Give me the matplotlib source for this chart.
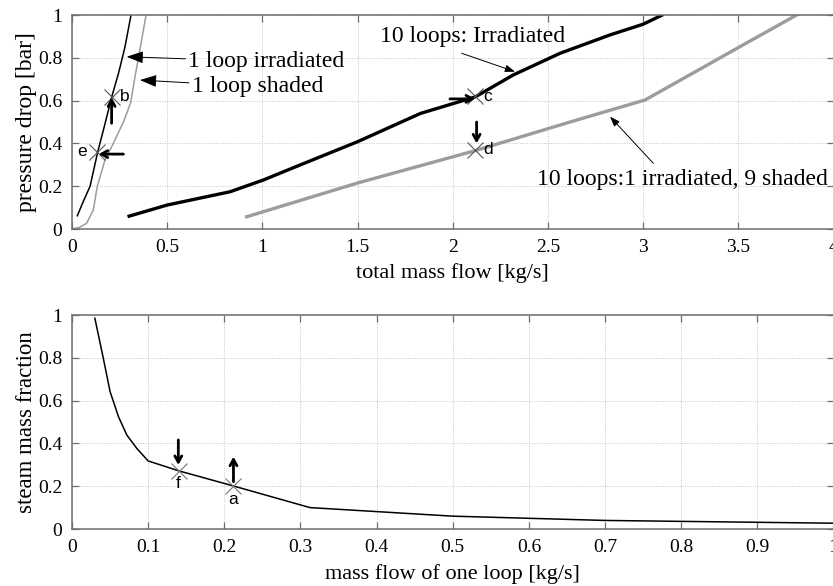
import matplotlib
matplotlib.use("Agg")
import matplotlib.pyplot as plt

# ---- data ----
# top plot: pressure drop vs total mass flow
one_irr_x = [0.028, 0.06, 0.095, 0.12, 0.135, 0.17, 0.208, 0.245, 0.278, 0.31]
one_irr_y = [0.062, 0.13, 0.20, 0.30, 0.36, 0.48, 0.615, 0.73, 0.85, 1.0]

one_sh_x = [0.0, 0.04, 0.077, 0.112, 0.133, 0.173, 0.217, 0.27, 0.308, 0.331, 0.349, 0.389]
one_sh_y = [0.0, 0.008, 0.027, 0.089, 0.20, 0.322, 0.40, 0.50, 0.59, 0.712, 0.80, 1.0]

ten_irr_x = [0.30, 0.50, 0.83, 1.005, 1.2, 1.5, 1.83, 2.117, 2.318, 2.563, 2.826, 3.0, 3.1]
ten_irr_y = [0.06, 0.112, 0.174, 0.229, 0.30, 0.408, 0.54, 0.617, 0.72, 0.821, 0.907, 0.957, 1.0]

ten_mix_x = [0.917, 1.5, 2.117, 2.616, 3.01, 3.508, 3.806]
ten_mix_y = [0.057, 0.215, 0.366, 0.50, 0.603, 0.852, 1.0]

# marked operating points, top
pts_top_x = [0.208, 0.13, 2.117, 2.117]
pts_top_y = [0.618, 0.362, 0.62, 0.37]
pts_top_lbl = ["b", "e", "c", "d"]

# bottom plot: steam mass fraction vs mass flow of one loop
loop_x = [0.03, 0.041, 0.05, 0.061, 0.072, 0.085, 0.10, 0.14, 0.21, 0.3125, 0.5, 0.7, 1.0]
loop_y = [0.985, 0.80, 0.642, 0.525, 0.439, 0.377, 0.318, 0.272, 0.203, 0.10, 0.06, 0.04, 0.027]

pts_bot_x = [0.14, 0.212]
pts_bot_y = [0.272, 0.201]
pts_bot_lbl = ["f", "a"]

top_xticks = [0, 0.5, 1, 1.5, 2, 2.5, 3, 3.5, 4]
top_xticklabels = ["0", "0.5", "1", "1.5", "2", "2.5", "3", "3.5", "4"]
yticks = [0, 0.2, 0.4, 0.6, 0.8, 1]
yticklabels = ["0", "0.2", "0.4", "0.6", "0.8", "1"]
bot_xticks = [0, 0.1, 0.2, 0.3, 0.4, 0.5, 0.6, 0.7, 0.8, 0.9, 1]
bot_xticklabels = ["0", "0.1", "0.2", "0.3", "0.4", "0.5", "0.6", "0.7", "0.8", "0.9", "1"]

SERIF = ["Liberation Serif", "DejaVu Serif"]
SANS = ["Liberation Sans", "DejaVu Sans"]
plt.rcParams["font.family"] = SERIF

W, H = 833, 586
fig = plt.figure(figsize=(W / 100, H / 100), dpi=100)

spine_col = "#6e6e6e"
grid_col = "#c4c4c4"
light = "#9c9c9c"

def style(ax, xlim, xticks, xlabels):
    ax.set_xlim(*xlim)
    ax.set_ylim(0, 1)
    ax.set_xticks(xticks)
    ax.set_xticklabels(xlabels)
    ax.set_yticks(yticks)
    ax.set_yticklabels(yticklabels)
    ax.tick_params(direction="in", top=True, right=True, length=5, width=0.9,
                   color=spine_col, labelsize=14, pad=7)
    ax.grid(True, linestyle=(0, (1, 1.5)), color=grid_col, linewidth=0.7)
    for s in ax.spines.values():
        s.set_color(spine_col)
        s.set_linewidth(1.1)
    ax.set_axisbelow(True)

ax1 = fig.add_axes([72 / W, (H - 229) / H, 761.6 / W, 214 / H])
ax2 = fig.add_axes([72 / W, (H - 529) / H, 761.6 / W, 214 / H])

# ---- top ----
style(ax1, (0, 4), top_xticks, top_xticklabels)
ax1.plot(one_irr_x, one_irr_y, color="black", lw=1.1)
ax1.plot(one_sh_x, one_sh_y, color=light, lw=1.1)
ax1.plot(ten_irr_x, ten_irr_y, color="black", lw=2.4)
ax1.plot(ten_mix_x, ten_mix_y, color=light, lw=2.4)
ax1.plot(pts_top_x, pts_top_y, linestyle="none", marker="x", ms=12, mew=0.8,
         color="#555555")
offs = {"b": (6, 0, "left", "center"), "e": (-7, 0, "right", "center"),
        "c": (6, 0, "left", "center"), "d": (6, 0, "left", "center")}
for x, y, l in zip(pts_top_x, pts_top_y, pts_top_lbl):
    dx, dy, ha, va = offs[l]
    ax1.annotate(l, (x, y), xytext=(dx, dy), textcoords="offset points",
                 ha=ha, va=va, fontsize=12.5, family=SANS)

thick = dict(arrowstyle="->,head_length=0.45,head_width=0.25", lw=2.0, color="black",
             shrinkA=0, shrinkB=0)
ax1.annotate("", xy=(0.208, 0.615), xytext=(0.208, 0.494), arrowprops=thick)
ax1.annotate("", xy=(0.14, 0.35), xytext=(0.27, 0.35), arrowprops=thick)
ax1.annotate("", xy=(2.117, 0.608), xytext=(1.985, 0.608), arrowprops=thick)
ax1.annotate("", xy=(2.125, 0.40), xytext=(2.125, 0.50), arrowprops=thick)

thin = dict(arrowstyle="-|>,head_length=0.6,head_width=0.22", lw=0.7, color="black",
            shrinkA=0, shrinkB=0)
ax1.annotate("1 loop irradiated", xy=(0.287, 0.805), xytext=(0.611, 0.782),
             ha="left", va="center", fontsize=17, arrowprops=thin)
ax1.annotate("1 loop shaded", xy=(0.357, 0.696), xytext=(0.629, 0.665),
             ha="left", va="center", fontsize=17, arrowprops=thin)
ax1.text(1.62, 0.90, "10 loops: Irradiated", ha="left", va="center", fontsize=17)
ax1.annotate("", xy=(2.327, 0.735), xytext=(2.047, 0.821), arrowprops=thin)
ax1.text(2.44, 0.23, "10 loops:1 irradiated, 9 shaded", ha="left", va="center", fontsize=17)
ax1.annotate("", xy=(2.826, 0.525), xytext=(3.053, 0.307), arrowprops=thin)

ax1.set_xlabel("total mass flow [kg/s]", fontsize=16, labelpad=5)
ax1.set_ylabel("pressure drop [bar]", fontsize=17, labelpad=1)

# ---- bottom ----
style(ax2, (0, 1), bot_xticks, bot_xticklabels)
ax2.plot(loop_x, loop_y, color="black", lw=1.1)
ax2.plot(pts_bot_x, pts_bot_y, linestyle="none", marker="x", ms=12, mew=0.8,
         color="#777777")
for x, y, l in zip(pts_bot_x, pts_bot_y, pts_bot_lbl):
    ax2.annotate(l, (x, y), xytext=(0, -4), textcoords="offset points",
                 ha="center", va="top", fontsize=12.5, family=SANS)
ax2.annotate("", xy=(0.1396, 0.299), xytext=(0.1396, 0.416), arrowprops=thick)
ax2.annotate("", xy=(0.212, 0.338), xytext=(0.212, 0.221), arrowprops=thick)

ax2.set_xlabel("mass flow of one loop [kg/s]", fontsize=16, labelpad=6)
ax2.set_ylabel("steam mass fraction", fontsize=16.5, labelpad=1)

fig.savefig("out.png", dpi=100)
